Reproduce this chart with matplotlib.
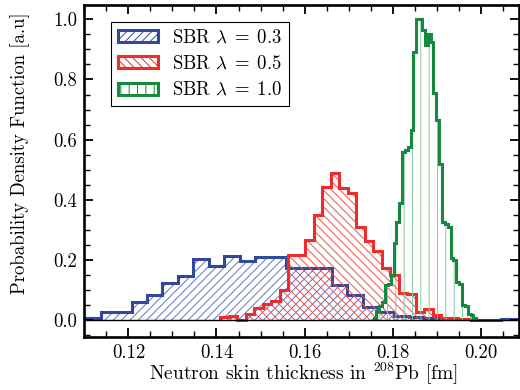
import numpy as np
import matplotlib
matplotlib.use('Agg')
import matplotlib.pyplot as plt
from matplotlib.patches import Patch
from matplotlib.ticker import MultipleLocator, FormatStrFormatter

plt.rcParams['font.family'] = 'serif'
plt.rcParams['font.serif'] = ['cmr10']
plt.rcParams['mathtext.fontset'] = 'cm'
plt.rcParams['axes.formatter.use_mathtext'] = True
plt.rcParams['hatch.linewidth'] = 0.7

labels = ['SBR $\\lambda\\;=\\;0.3$', 'SBR $\\lambda\\;=\\;0.5$', 'SBR $\\lambda\\;=\\;1.0$']
colors = ['#33489c', '#ec2d2a', '#17893c']
hatch_colors = ['#6172c4', '#f0524c', '#86cc9e']
hatches = ['////', '\\\\\\\\', '||']

# first bin edge [fm], bin width [fm], pdf heights
blue_start, blue_width = 0.11023, 0.0035
blue_pdf = [0.006, 0.027, 0.025, 0.060, 0.082, 0.123, 0.145, 0.204, 0.178, 0.214,
            0.197, 0.208, 0.208, 0.172, 0.172, 0.172, 0.115, 0.083, 0.044, 0.025,
            0.012, 0.011, 0.006, 0.005, 0.003, 0.001, 0.0, 0.003]

red_start, red_width = 0.14084, 0.00193
red_pdf = [0.010, 0.014, 0.0, 0.019, 0.039, 0.053, 0.063, 0.100, 0.216, 0.216,
           0.266, 0.349, 0.443, 0.490, 0.440, 0.421, 0.310, 0.263, 0.230, 0.172,
           0.150, 0.091, 0.088, 0.028, 0.035, 0.015, 0.008, 0.005, 0.004, 0.003]

green_start, green_width = 0.17567, 0.000648
green_pdf = [0.005, 0.030, 0.045, 0.060, 0.115, 0.120, 0.150, 0.255, 0.325, 0.390,
             0.560, 0.565, 0.575, 0.632, 0.890, 1.000, 1.000, 0.965, 0.915, 0.950,
             0.925, 0.755, 0.665, 0.520, 0.325, 0.320, 0.310, 0.205, 0.200, 0.125,
             0.120, 0.050, 0.045, 0.020, 0.015, 0.005]

series = [(blue_start, blue_width, blue_pdf),
          (red_start, red_width, red_pdf),
          (green_start, green_width, green_pdf)]

fig = plt.figure(figsize=(5.2, 3.9), dpi=100)
ax = fig.add_axes([0.1615, 0.136, 0.8365, 0.851])

for (start, width, pdf), c, hc, h in zip(series, colors, hatch_colors, hatches):
    edges = start + width * np.arange(len(pdf) + 1)
    ax.stairs(pdf, edges, fill=True, facecolor='none', edgecolor=hc,
              hatch=h, linewidth=0)
    ax.stairs(pdf, edges, fill=True, facecolor='none', edgecolor=c,
              linewidth=2.2)

ax.axhline(0, color='k', lw=1.0, zorder=3)

ax.set_xlim(0.1099, 0.2087)
ax.set_ylim(-0.0565, 1.0475)
ax.xaxis.set_major_locator(MultipleLocator(0.02))
ax.xaxis.set_minor_locator(MultipleLocator(0.005))
ax.yaxis.set_major_locator(MultipleLocator(0.2))
ax.yaxis.set_minor_locator(MultipleLocator(0.05))
ax.xaxis.set_major_formatter(FormatStrFormatter('%.2f'))
ax.yaxis.set_major_formatter(FormatStrFormatter('%.1f'))
ax.tick_params(which='both', direction='in', top=True, right=True, labelsize=13.5)
ax.tick_params(which='major', length=6.5, width=1.3, pad=5)
ax.tick_params(which='minor', length=4, width=1.0)
for s in ax.spines.values():
    s.set_linewidth(1.9)

ax.set_xlabel('Neutron skin thickness in $^{208}$Pb [fm]', fontsize=14)
ax.set_ylabel('Probability Density Function [a.u]', fontsize=13.5)
ax.xaxis.set_label_coords(0.505, -0.072)
ax.yaxis.set_label_coords(-0.125, 0.555)

handles = [Patch(facecolor='none', edgecolor=c, hatch=h, linewidth=2.2)
           for c, h in zip(colors, hatches)]
leg = ax.legend(handles, labels, loc='upper left', bbox_to_anchor=(0.062, 0.949),
                borderaxespad=0, fontsize=13.5, fancybox=False, framealpha=1,
                edgecolor='k', handlelength=2.15, handleheight=0.62,
                handletextpad=0.75, labelspacing=0.45, borderpad=0.35)
leg.get_frame().set_linewidth(0.8)

fig.savefig('out.png', dpi=100)
